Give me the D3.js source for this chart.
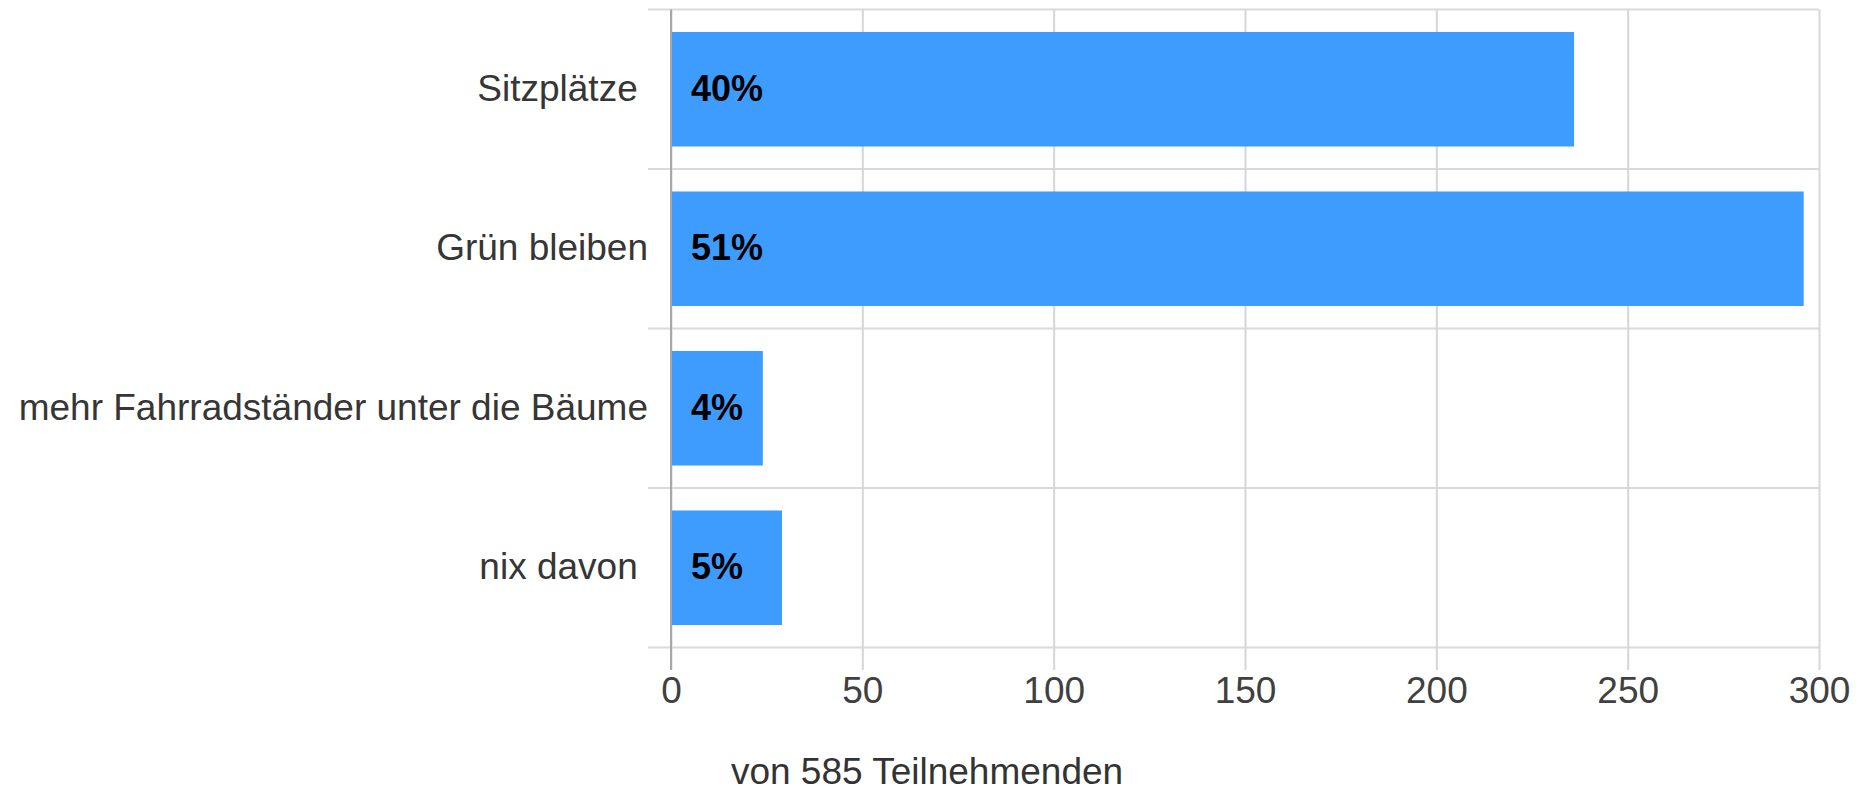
<!DOCTYPE html>
<html>
<head>
<meta charset="utf-8">
<script src="https://cdn.jsdelivr.net/npm/d3@7"></script>
<style>
  html, body { margin: 0; padding: 0; background: #fff; }
  svg { display: block; font-family: Arial, "Liberation Sans", sans-serif; }
  .cat_label { white-space: pre; }
</style>
</head>
<body>
<svg id="chart" width="1868" height="792"></svg>
<script>
/* Antworten der Umfrage (Anzahl Stimmen) */
var categories = ['Sitzplätze ', 'Grün bleiben', 'mehr Fahrradständer unter die Bäume', 'nix davon '];
var votes      = [236, 296, 24, 29];
var x_ticks    = [0, 50, 100, 150, 200, 250, 300];
var x_title    = 'von 585 Teilnehmenden';

var total = d3.sum(votes);

var svg = d3.select('#chart');

/* Plotbereich */
var plot_left = 671, plot_right = 1819, plot_top = 9.5, plot_bottom = 647.5;

var x = d3.scaleLinear().domain([0, 300]).range([plot_left, plot_right]);

/* Zeilen (für Gitterlinien) und Balken */
var rows = d3.scaleBand().domain(categories).range([plot_top, plot_bottom]).padding(0);
var bars = d3.scaleBand().domain(categories).range([plot_top, plot_bottom])
    .paddingInner(0.282).paddingOuter(0.141);

var grid = svg.append('g').attr('class', 'grid');

/* horizontale Trennlinien zwischen den Zeilen */
var row_edges = categories.map(function(c) { return rows(c); }).concat([plot_bottom]);
grid.selectAll('.hline')
    .data(row_edges)
    .enter().append('line')
    .attr('x1', 648).attr('x2', plot_right)
    .attr('y1', function(d) { return d; })
    .attr('y2', function(d) { return d; })
    .attr('stroke', '#dadada')
    .attr('stroke-width', 2);

/* x-Achse mit senkrechten Gitterlinien */
var x_axis = svg.append('g')
    .attr('transform', 'translate(0,' + plot_bottom + ')')
    .call(d3.axisBottom(x).tickValues(x_ticks).tickSizeOuter(0).tickPadding(0));

x_axis.select('.domain').remove();
x_axis.selectAll('.tick line')
    .attr('y1', -(plot_bottom - plot_top))
    .attr('y2', 22.5)
    .attr('stroke', '#d6d6d6')
    .attr('stroke-width', 2);
x_axis.selectAll('.tick text')
    .attr('y', 55)
    .attr('dy', 0)
    .attr('fill', '#404040')
    .style('font-size', '37px')
    .style('font-family', 'Arial, "Liberation Sans", sans-serif');

/* Balken */
svg.append('g').selectAll('rect')
    .data(categories)
    .enter().append('rect')
    .attr('x', x(0))
    .attr('y', function(d) { return bars(d); })
    .attr('width', function(d, i) { return x(votes[i]) - x(0); })
    .attr('height', bars.bandwidth())
    .attr('fill', '#3f9cff');

/* Nulllinie */
svg.append('line')
    .attr('x1', x(0)).attr('x2', x(0))
    .attr('y1', plot_top).attr('y2', plot_bottom + 22.5)
    .attr('stroke', '#a8a8a8')
    .attr('stroke-width', 2);

/* Prozentwerte in den Balken */
svg.append('g').selectAll('text')
    .data(categories)
    .enter().append('text')
    .attr('x', x(0) + 20)
    .attr('y', function(d) { return bars(d) + bars.bandwidth() / 2; })
    .attr('dy', '0.32em')
    .attr('fill', '#000')
    .style('font-size', '36px')
    .style('font-weight', 'bold')
    .text(function(d, i) { return Math.round(votes[i] / total * 100) + '%'; });

/* Kategorien links */
var y_axis = svg.append('g')
    .attr('transform', 'translate(' + x(0) + ',0)')
    .call(d3.axisLeft(rows).tickSize(0).tickPadding(23));

y_axis.select('.domain').remove();
y_axis.selectAll('.tick text')
    .attr('class', 'cat_label')
    .attr('dy', '0.31em')
    .attr('fill', '#363636')
    .style('font-size', '37px')
    .style('font-family', 'Arial, "Liberation Sans", sans-serif');

/* Achsentitel */
svg.append('text')
    .attr('x', 927)
    .attr('y', 784)
    .attr('text-anchor', 'middle')
    .attr('fill', '#333')
    .style('font-size', '37px')
    .text(x_title);
</script>
</body>
</html>
